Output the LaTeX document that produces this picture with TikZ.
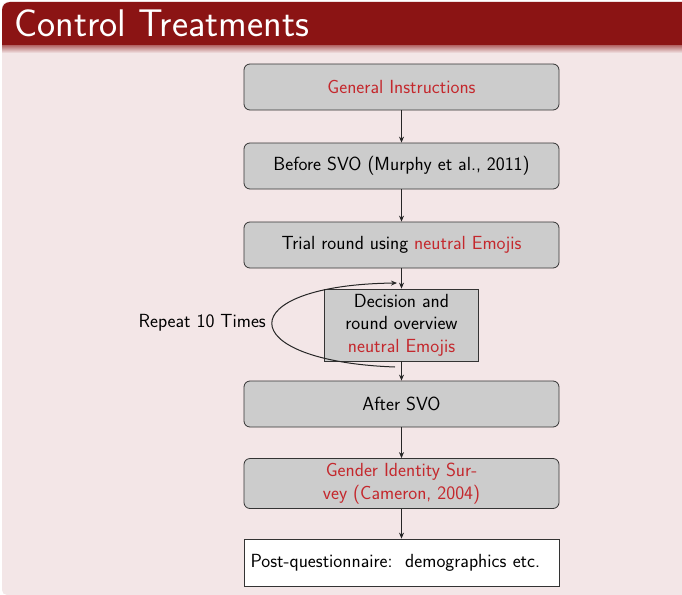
\documentclass[tikz,border=0pt]{standalone}
\usepackage{fontspec}
\usetikzlibrary{arrows.meta}
\definecolor{hdr}{RGB}{139,20,20}
\definecolor{bodybg}{RGB}{243,230,231}
\definecolor{boxgray}{RGB}{204,204,204}
\definecolor{alertred}{RGB}{196,40,45}
\begin{document}
\begin{tikzpicture}[x=1pt,y=-1pt,
  font=\sffamily\fontsize{19}{22.5}\selectfont,
  stepbox/.style={draw=black!80, fill=boxgray, rounded corners=6pt, minimum width=315pt, minimum height=46pt, inner sep=2pt, align=center, line width=0.8pt},
  decbox/.style={draw=black!80, fill=boxgray, minimum width=154pt, minimum height=72pt, inner sep=2pt, align=center, line width=0.8pt},
  postbox/.style={draw=black!80, fill=white, text width=302pt, inner xsep=6.5pt, minimum height=47pt, align=left, line width=0.8pt},
  arr/.style={-{Stealth[length=6pt,width=5pt]}, line width=0.7pt, black!85}
]
\useasboundingbox (0,0) rectangle (682,594);
\fill[white] (0,0) rectangle (682,594);
\fill[bodybg, rounded corners=5pt] (2,2) rectangle (700,595);
\fill[hdr] (2,46) {[rounded corners=8pt] -- (2,2) -- (700,2)} -- (700,46) -- cycle;
\shade[top color=hdr!55!bodybg, bottom color=bodybg] (2,46) rectangle (682,53);
\node[anchor=base west, text=white, inner sep=0pt, font=\sffamily\fontsize{38.5}{44}\selectfont] (title) at (14,37) {Control Treatments};

\node[stepbox] (gi) at (401.5,87) {\textcolor{alertred}{General Instructions}};
\node[stepbox] (bs) at (401.5,166) {Before SVO (Murphy et al., 2011)};
\node[stepbox] (tr) at (401.5,245) {Trial round using \textcolor{alertred}{neutral Emojis}};
\node[decbox] (dec) at (401.5,325) {Decision and\\round overview\\\textcolor{alertred}{neutral Emojis}};
\node[stepbox] (as) at (401.5,404) {After SVO};
\node[stepbox, minimum height=50pt] (gs) at (401.5,483.5) {\textcolor{alertred}{Gender Identity Sur-}\\\textcolor{alertred}{vey (Cameron, 2004)}};
\node[postbox] (pq) at (401.5,562.5) {Post-questionnaire:\ \ demographics etc.};

\draw[arr] (gi) -- (bs);
\draw[arr] (bs) -- (tr);
\draw[arr] (tr) -- (dec);
\draw[arr] (dec) -- (as);
\draw[arr] (as) -- (gs);
\draw[arr] (gs) -- (pq);

\coordinate (ls) at (395,367);
\coordinate (le) at (397,283);
\draw[arr, line width=1pt] (ls) .. controls (231,361) and (231,285) .. (le);
\node[anchor=east, inner sep=0pt] (rep) at (266,323) {Repeat 10 Times};
\end{tikzpicture}
\end{document}
